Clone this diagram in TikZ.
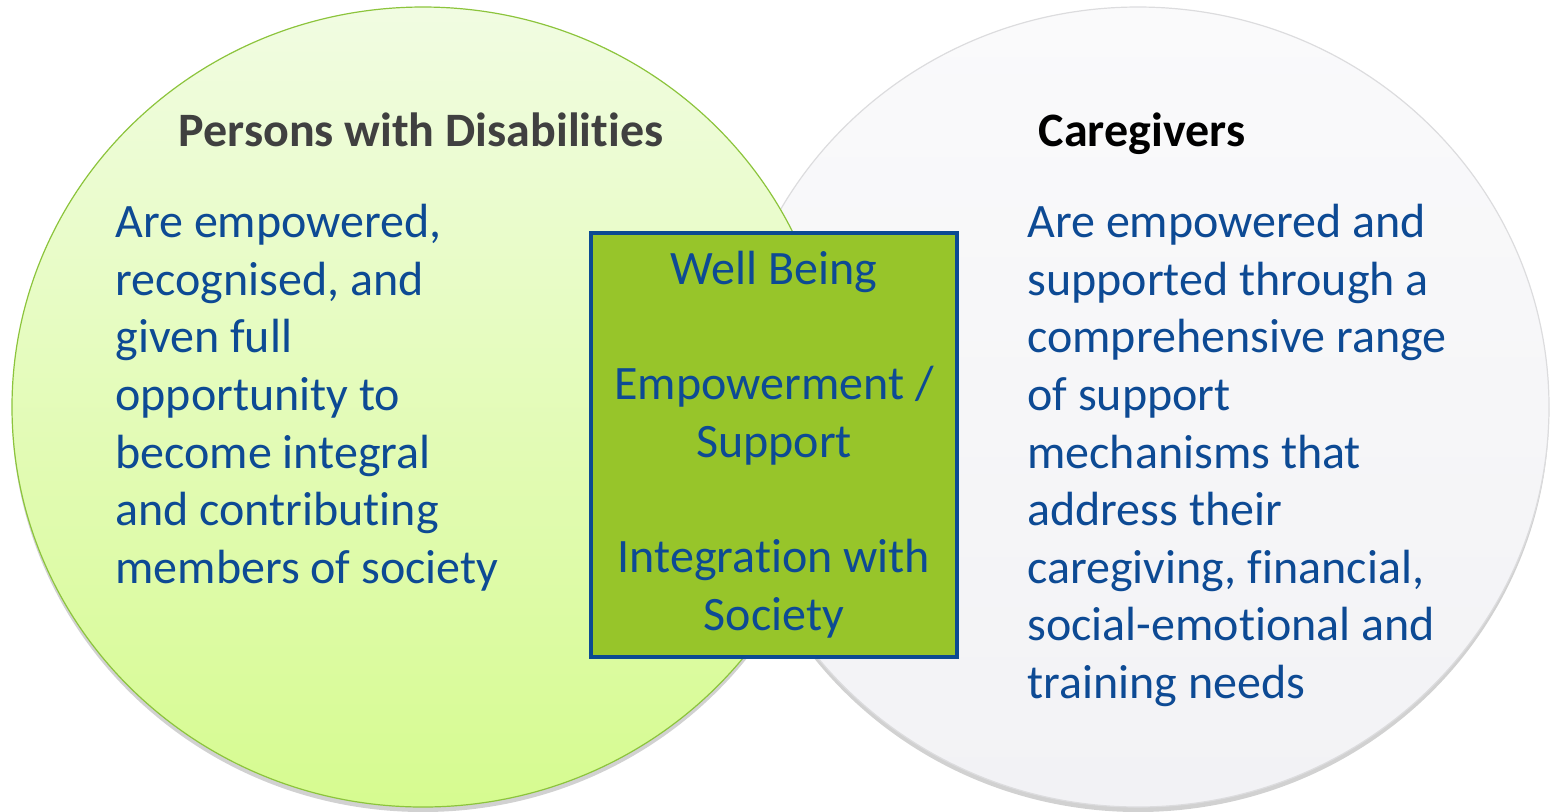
\documentclass[tikz,border=0pt]{standalone}
\usepackage{fontspec}
\setmainfont{Carlito}[Ligatures=NoCommon]
\usepackage{tikz}
\usetikzlibrary{positioning,shapes.geometric,shadows}
\definecolor{txtblue}{HTML}{0D4A94}
\definecolor{boxgreen}{HTML}{97C52A}
\definecolor{boxblue}{HTML}{0B4A92}
\definecolor{pwdline}{HTML}{8CC43C}
\definecolor{pwdtop}{HTML}{F1FCE2}
\definecolor{pwdbottom}{HTML}{D6FB90}
\definecolor{cgline}{HTML}{DCDCDE}
\definecolor{cgtop}{HTML}{FAFAFB}
\definecolor{cgbottom}{HTML}{F2F2F5}
\definecolor{titlegray}{HTML}{404040}
\tikzset{
    setcircle/.style={ellipse, minimum width=411pt, minimum height=400pt, inner sep=0pt, line width=0.6pt,
        drop shadow={shadow xshift=0pt, shadow yshift=-2.5pt, opacity=0.3, fill=black!60}},
    heading/.style={font=\bfseries\fontsize{24}{28.8}\selectfont, anchor=base, inner sep=0pt},
    bodytext/.style={font=\fontsize{24}{28.8}\selectfont, text=txtblue, align=left, anchor=north west, inner sep=0pt},
    centrebox/.style={draw=boxblue, line width=2pt, fill=boxgreen, minimum width=183pt, minimum height=212pt,
        text=txtblue, align=center, font=\fontsize{24}{28.8}\selectfont}
}
\begin{document}
\begin{tikzpicture}[x=0.5pt, y=-0.5pt]
\useasboundingbox (0,0) rectangle (1551,811);
% the two groups
\node[setcircle, draw=cgline, top color=cgtop, bottom color=cgbottom] (cg) at (1138,407) {};
\node[setcircle, draw=pwdline, top color=pwdtop, bottom color=pwdbottom] (pwd) at (423,407) {};

\node[heading, text=titlegray] (pwdtitle) at (421,146) {Persons with Disabilities};
\node[heading, text=black] (cgtitle) at (1142,146) {Caregivers};

\node[bodytext] (pwdtext) at (115,204) {Are empowered,\\recognised, and\\given full\\opportunity to\\become integral\\and contributing\\members of society};
\node[bodytext] (cgtext) at (1027,204) {Are empowered and\\supported through a\\comprehensive range\\of support\\mechanisms that\\address their\\caregiving, financial,\\social-emotional and\\training needs};

% what both share
\node[centrebox] (common) at (774,444.5) {Well Being\\[28.8pt]Empowerment /\\Support\\[28.8pt]Integration with\\Society};
\end{tikzpicture}
\end{document}
